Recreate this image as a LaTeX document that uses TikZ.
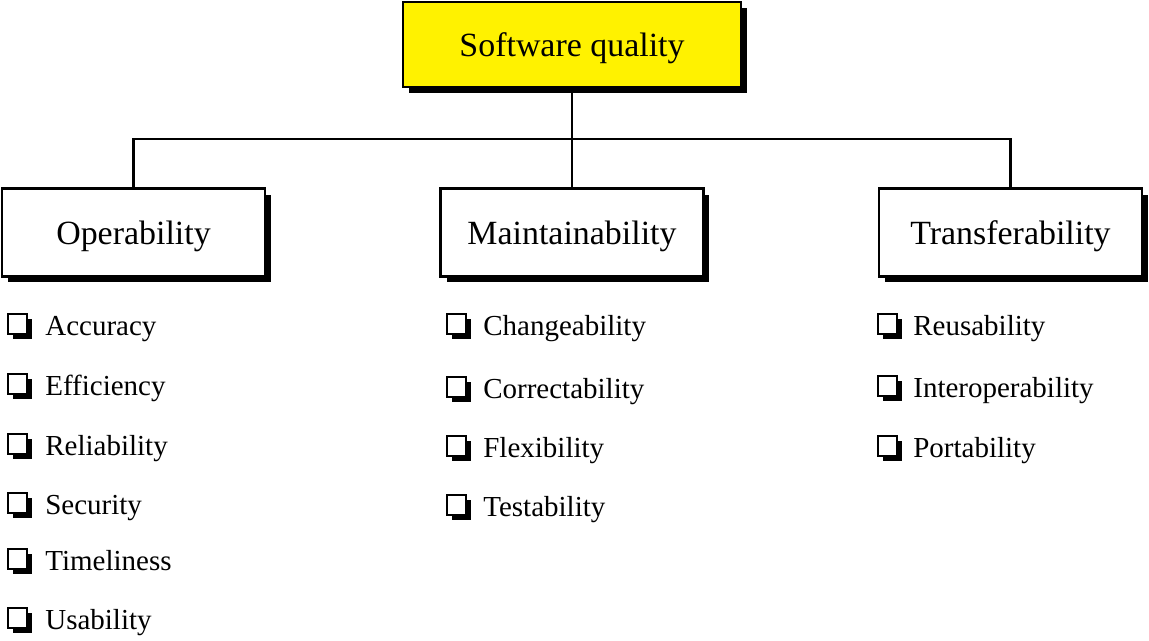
\documentclass[tikz,border=0pt]{standalone}
\usepackage{fontspec}
\setmainfont{Liberation Serif}
\usetikzlibrary{shadows}

\tikzset{
  boxshadow/.style={drop shadow={shadow xshift=0.12cm,shadow yshift=-0.12cm,opacity=1,fill=black}},
  chk/.style={draw,line width=1pt,fill=white,minimum size=0.39cm,inner sep=0pt,
    drop shadow={shadow xshift=0.1cm,shadow yshift=-0.1cm,opacity=1,fill=black}},
  item/.style={anchor=base west,inner sep=0pt,font=\fontsize{16.5}{20}\selectfont}
}

\begin{document}
\begin{tikzpicture}[x=0.02cm,y=-0.02cm]
        \useasboundingbox (0,0) rectangle (1149,640);
        \begin{scope}[every node/.style={draw,line width=1.3pt,boxshadow,minimum height=1.76cm,
            minimum width=5.26cm,text depth=0pt,font=\fontsize{19.3}{23}\selectfont}]
          \node[fill=yellow,minimum width=6.76cm,minimum height=1.7cm] (Q) at (572,44.5) {Software quality};
          \node[fill=white] (O) at (133.5,232.5) {Operability};
          \node[fill=white] (M) at (572,232.5) {Maintainability};
          \node[fill=white] (T) at (1010.5,232.5) {Transferability};
        \end{scope}
        \coordinate (J) at (572,139);
        \begin{scope}[line width=1.3pt]
          \draw (Q) -- (J);
          \draw (J) -- (M);
          \draw (O.north) |- (J);
          \draw (J) -| (T.north);
        \end{scope}
        % item lists
        \foreach \t/\y [count=\i] in {Accuracy/335,Efficiency/395,Reliability/455,
            Security/514,Timeliness/570,Usability/629}{
          \node[chk] (oc\i) at (17.5,\y-11) {};
          \node[item] (o\i) at (45,\y) {\t};
        }
        \foreach \t/\y [count=\i] in {Changeability/335,Correctability/398,
            Flexibility/457,Testability/516}{
          \node[chk] (mc\i) at (456.5,\y-11) {};
          \node[item] (m\i) at (483,\y) {\t};
        }
        \foreach \t/\y [count=\i] in {Reusability/335,Interoperability/397,Portability/457}{
          \node[chk] (tc\i) at (887.5,\y-11) {};
          \node[item] (t\i) at (913,\y) {\t};
        }
\end{tikzpicture}
\end{document}
